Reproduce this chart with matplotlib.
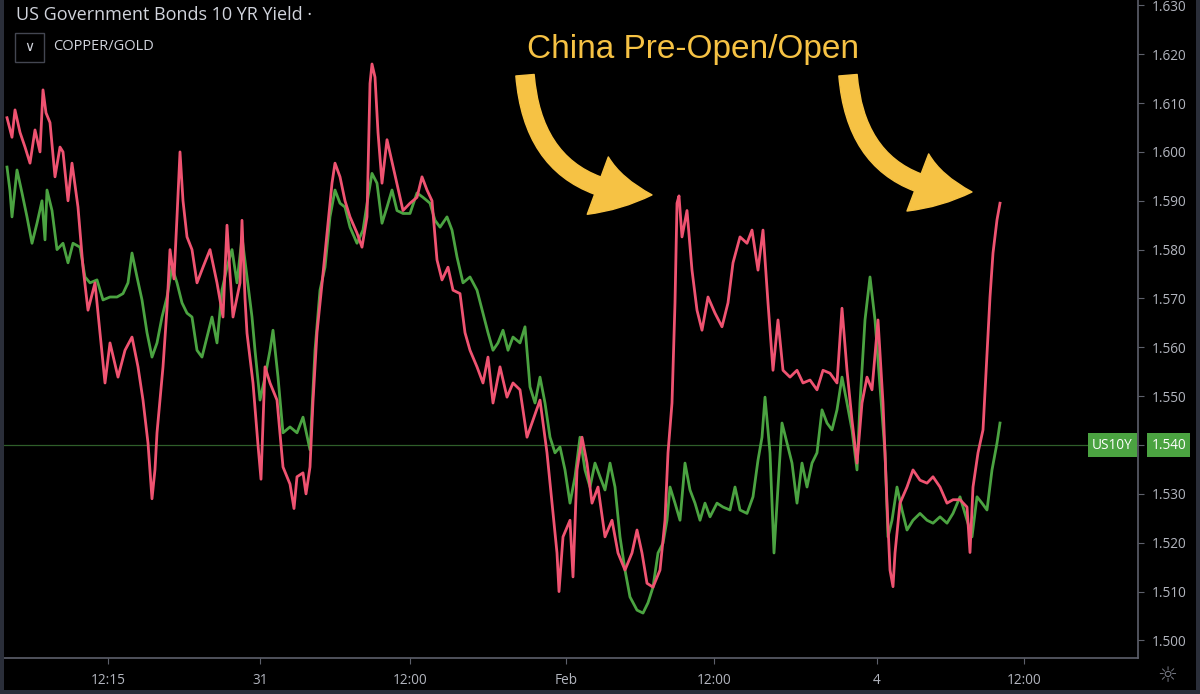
import matplotlib
matplotlib.use("Agg")
import matplotlib.pyplot as plt
from matplotlib.patches import Rectangle
from matplotlib.transforms import blended_transform_factory

# bar index (chart time axis) and yield values
red_x = [7, 12, 15, 20, 25, 30, 35, 40, 43, 46, 50, 55, 60, 63, 68, 72, 78, 83, 88, 95,
         100, 105, 110, 118, 125, 132, 138, 143, 148, 152, 155, 157, 163, 167, 170, 174, 177, 180, 183, 187,
         192, 197, 203, 210, 217, 223, 227, 230, 233, 240, 242, 245, 247, 253, 258, 261, 265, 270, 277, 283,
         290, 294, 297, 303, 306, 310, 313, 317, 322, 327, 332, 335, 340, 345, 350, 357, 362, 367, 370, 372,
         375, 378, 382, 387, 392, 397, 403, 410, 417, 422, 427, 432, 437, 442, 448, 453, 460, 465, 470, 477,
         483, 488, 493, 500, 507, 513, 520, 527, 533, 540, 547, 552, 557, 559, 563, 570, 573, 577, 582, 587,
         592, 598, 605, 612, 618, 625, 632, 637, 642, 647, 653, 660, 665, 668, 672, 675, 677, 679, 682, 687,
         692, 697, 702, 708, 715, 722, 728, 733, 740, 747, 752, 758, 763, 768, 773, 778, 783, 790, 797, 803,
         810, 817, 823, 830, 837, 842, 847, 852, 857, 862, 867, 872, 878, 883, 887, 890, 893, 895, 900, 907,
         913, 920, 927, 933, 940, 947, 953, 960, 967, 970, 973, 978, 983, 987, 990, 993, 997, 1000]
red_y = [1.607, 1.603, 1.6086, 1.604, 1.601, 1.5977, 1.6045, 1.600, 1.6127, 1.608, 1.606, 1.5949, 1.601, 1.600, 1.590, 1.5977, 1.5887, 1.5764, 1.5676, 1.5732,
         1.5629, 1.5527, 1.5609, 1.5539, 1.5594, 1.5621, 1.556, 1.5492, 1.5404, 1.529, 1.535, 1.5425, 1.556, 1.568, 1.580, 1.574, 1.5867, 1.600, 1.590, 1.5826,
         1.580, 1.5732, 1.5764, 1.580, 1.5732, 1.5662, 1.585, 1.575, 1.5662, 1.5732, 1.586, 1.570, 1.5629, 1.5527, 1.540, 1.533, 1.556, 1.5527, 1.5492, 1.5355,
         1.532, 1.527, 1.5335, 1.5343, 1.530, 1.5355, 1.549, 1.563, 1.573, 1.5834, 1.5936, 1.5977, 1.5949, 1.590, 1.5867, 1.5834, 1.5805, 1.5867, 1.614, 1.618,
         1.6153, 1.604, 1.5936, 1.6025, 1.598, 1.5936, 1.588, 1.5895, 1.5907, 1.5949, 1.5922, 1.590, 1.5779, 1.5738, 1.5764, 1.5717, 1.571, 1.563, 1.5594, 1.556,
         1.5527, 1.558, 1.5486, 1.556, 1.5498, 1.5527, 1.5513, 1.5416, 1.5451, 1.5492, 1.5384, 1.5281, 1.5179, 1.510, 1.5212, 1.5246, 1.513, 1.5349, 1.5416, 1.5363,
         1.5281, 1.5314, 1.5212, 1.5246, 1.5179, 1.5144, 1.5179, 1.5226, 1.5179, 1.5117, 1.5109, 1.5144, 1.5246, 1.5384, 1.5486, 1.5691, 1.5895, 1.591, 1.5826, 1.588,
         1.5758, 1.5676, 1.5635, 1.5703, 1.567, 1.5642, 1.5691, 1.5773, 1.5826, 1.5813, 1.584, 1.5758, 1.584, 1.5691, 1.5553, 1.5656, 1.5553, 1.5539, 1.5553, 1.5527,
         1.5533, 1.5513, 1.5553, 1.5547, 1.5527, 1.568, 1.5553, 1.5451, 1.5363, 1.5486, 1.5539, 1.5513, 1.5656, 1.5486, 1.5281, 1.5144, 1.511, 1.5179, 1.5281, 1.5314,
         1.5349, 1.5328, 1.5322, 1.5335, 1.5314, 1.5281, 1.5288, 1.5288, 1.5273, 1.518, 1.5314, 1.5384, 1.5431, 1.5588, 1.5703, 1.5793, 1.5861, 1.5895]

green_x = [7, 10, 12, 17, 22, 27, 32, 37, 42, 45, 47, 52, 57, 63, 68, 73, 80, 85, 90, 97,
           103, 110, 117, 123, 128, 132, 137, 142, 147, 152, 157, 162, 167, 172, 177, 182, 187, 192, 197, 202,
           207, 212, 217, 222, 227, 232, 237, 242, 247, 252, 255, 260, 265, 270, 273, 278, 283, 290, 297, 303,
           310, 315, 320, 325, 330, 335, 340, 345, 350, 357, 363, 368, 372, 377, 382, 387, 392, 397, 403, 410,
           417, 423, 430, 435, 440, 447, 452, 457, 463, 470, 477, 483, 488, 493, 498, 503, 508, 513, 520, 525,
           530, 535, 540, 545, 550, 555, 560, 565, 570, 575, 580, 585, 590, 595, 600, 605, 610, 615, 620, 625,
           630, 637, 643, 648, 653, 658, 663, 667, 670, 675, 680, 685, 690, 695, 700, 705, 710, 717, 723, 730,
           735, 740, 747, 753, 758, 762, 765, 770, 774, 778, 782, 787, 792, 797, 802, 807, 812, 817, 822, 827,
           832, 837, 842, 847, 852, 857, 860, 865, 870, 875, 880, 885, 888, 892, 897, 902, 907, 913, 920, 927,
           933, 940, 947, 953, 960, 967, 972, 977, 982, 987, 992, 997, 1000]
green_y = [1.5969, 1.592, 1.5867, 1.5963, 1.5916, 1.5867, 1.5813, 1.5854, 1.590, 1.582, 1.5922, 1.588, 1.580, 1.5813, 1.5773, 1.5813, 1.5805, 1.5744, 1.5732, 1.5738,
           1.5697, 1.5703, 1.5703, 1.571, 1.5732, 1.5793, 1.5744, 1.5697, 1.563, 1.558, 1.5609, 1.5662, 1.5703, 1.5764, 1.5732, 1.5691, 1.567, 1.5662, 1.5594, 1.558,
           1.5621, 1.5662, 1.5609, 1.5717, 1.5764, 1.580, 1.5732, 1.5826, 1.5744, 1.5662, 1.5594, 1.5492, 1.5539, 1.5594, 1.5635, 1.5539, 1.5425, 1.5437, 1.5425, 1.5457,
           1.539, 1.5594, 1.5717, 1.5764, 1.5867, 1.5922, 1.5895, 1.5887, 1.5846, 1.5813, 1.584, 1.5907, 1.5956, 1.5936, 1.5854, 1.5887, 1.5922, 1.588, 1.5874, 1.5874,
           1.5916, 1.5907, 1.5895, 1.586, 1.5846, 1.5867, 1.584, 1.5785, 1.5732, 1.5744, 1.5717, 1.567, 1.563, 1.5594, 1.5609, 1.5635, 1.5594, 1.5621, 1.5609, 1.5642,
           1.5519, 1.5486, 1.5539, 1.5486, 1.5416, 1.5384, 1.5396, 1.5349, 1.5281, 1.5335, 1.5416, 1.5349, 1.5314, 1.5363, 1.5335, 1.5308, 1.5363, 1.5314, 1.5212, 1.5144,
           1.5089, 1.5062, 1.5056, 1.5077, 1.5109, 1.5179, 1.5199, 1.5246, 1.5314, 1.5281, 1.5246, 1.5363, 1.5308, 1.5281, 1.5246, 1.5281, 1.5253, 1.5281, 1.5273, 1.5267,
           1.5314, 1.5267, 1.526, 1.5294, 1.5369, 1.5416, 1.5498, 1.5384, 1.5179, 1.5314, 1.5445, 1.5404, 1.5363, 1.5281, 1.5363, 1.5314, 1.5363, 1.5384, 1.5472, 1.5445,
           1.5431, 1.5472, 1.5539, 1.5486, 1.5431, 1.5349, 1.5486, 1.5656, 1.5744, 1.5656, 1.5519, 1.5384, 1.5212, 1.5246, 1.5314, 1.5267, 1.5226, 1.5246, 1.526, 1.5246,
           1.524, 1.5253, 1.524, 1.526, 1.5294, 1.5246, 1.5212, 1.5294, 1.5281, 1.5267, 1.5349, 1.5404, 1.5445]

y_ticks = [1.500, 1.510, 1.520, 1.530, 1.540, 1.550, 1.560, 1.570, 1.580, 1.590, 1.600, 1.610, 1.620, 1.630]
x_tick_bars = [108, 260, 410, 566, 714, 877, 1024]
x_tick_labels = ["12:15", "31", "12:00", "Feb", "12:00", "4", "12:00"]
last_price = 1.540

RED = "#ef5371"
GREEN = "#4ba341"
TXT = "#b2b5be"
AXC = "#5d606b"
YELLOW = "#f6c244"

fig = plt.figure(figsize=(12, 6.94), dpi=100, facecolor="black")
ax = fig.add_axes([4 / 1200, 36 / 694, 1134 / 1200, 658 / 694])
ax.set_facecolor("black")

ax.plot(green_x, green_y, color=GREEN, lw=2.0, zorder=3)
ax.plot(red_x, red_y, color=RED, lw=2.0, zorder=4)
ax.axhline(last_price, color="#2f5e2a", lw=0.9, zorder=2)

ax.set_xlim(4, 1138)
ax.set_ylim(1.4964, 1.6311)

ax.yaxis.tick_right()
ax.set_yticks(y_ticks)
ax.set_yticklabels([f"{v:.3f}" for v in y_ticks])
ax.set_xticks(x_tick_bars)
ax.set_xticklabels(x_tick_labels)
ax.tick_params(axis="both", colors=AXC, labelcolor=TXT, labelsize=9.8, length=4, width=0.8)
ax.tick_params(axis="y", pad=6)
ax.tick_params(axis="x", pad=7)
for lab in ax.get_xticklabels() + ax.get_yticklabels():
    lab.set_family("Open Sans")
for s in ["top", "left"]:
    ax.spines[s].set_visible(False)
for s in ["right", "bottom"]:
    ax.spines[s].set_color(AXC)
    ax.spines[s].set_linewidth(1.2)

# last value markers
tr = blended_transform_factory(ax.transAxes, ax.transData)
ax.text(1.0 + 0.027, last_price, "1.540", transform=tr, ha="center", va="center",
        color="white", fontsize=9.8, family="Open Sans", zorder=10, clip_on=False,
        bbox=dict(boxstyle="square,pad=0.3", fc=GREEN, ec="none"))
ax.text(0.9955, last_price, "US10Y", transform=tr, ha="right", va="center",
        color="white", fontsize=9.8, family="Open Sans", zorder=10,
        bbox=dict(boxstyle="square,pad=0.3", fc=GREEN, ec="none"))

# legend header
fig.text(16 / 1200, 1 - 15 / 694, "US Government Bonds 10 YR Yield \u00b7", color="#d1d4dc",
         fontsize=13, family="Open Sans", va="center", ha="left")
fig.add_artist(Rectangle((15 / 1200, 1 - 62 / 694), 29 / 1200, 29 / 694, transform=fig.transFigure,
                         fill=False, ec="#434651", lw=1))
fig.text(29.5 / 1200, 1 - 47 / 694, "\u2228", color="#d1d4dc", fontsize=10, ha="center", va="center")
fig.text(53 / 1200, 1 - 47 / 694, "COPPER/GOLD", color="#d1d4dc", fontsize=10.5,
         family="Open Sans", va="center", ha="left")

# borders and settings icon
fig.add_artist(Rectangle((0, 0), 4 / 1200, 1, transform=fig.transFigure, fc="#2a2e39", ec="none"))
fig.add_artist(Rectangle((0, 0), 1, 4 / 694, transform=fig.transFigure, fc="#2a2e39", ec="none"))
fig.add_artist(Rectangle((1196 / 1200, 0), 4 / 1200, 1, transform=fig.transFigure, fc="#2a2e39", ec="none"))
fig.text(1167 / 1200, 1 - 676 / 694, "\u263c", color="#787b86", fontsize=16, ha="center", va="center")

# annotation
ax.text(0.608, 0.925, "China Pre-Open/Open", transform=ax.transAxes, color=YELLOW,
        fontsize=24, family="Liberation Sans", ha="center", va="center")
arrow = dict(arrowstyle="simple,head_length=0.9,head_width=1.0,tail_width=0.3",
             fc=YELLOW, ec=YELLOW, mutation_scale=44, connectionstyle="arc3,rad=0.45",
             shrinkA=0, shrinkB=0)
ax.annotate("", xy=(652, 1.5912), xytext=(525, 1.6157), arrowprops=arrow, zorder=6)
ax.annotate("", xy=(972, 1.5918), xytext=(848, 1.6157), arrowprops=arrow, zorder=6)

fig.savefig("out.png", dpi=100, facecolor=fig.get_facecolor())
